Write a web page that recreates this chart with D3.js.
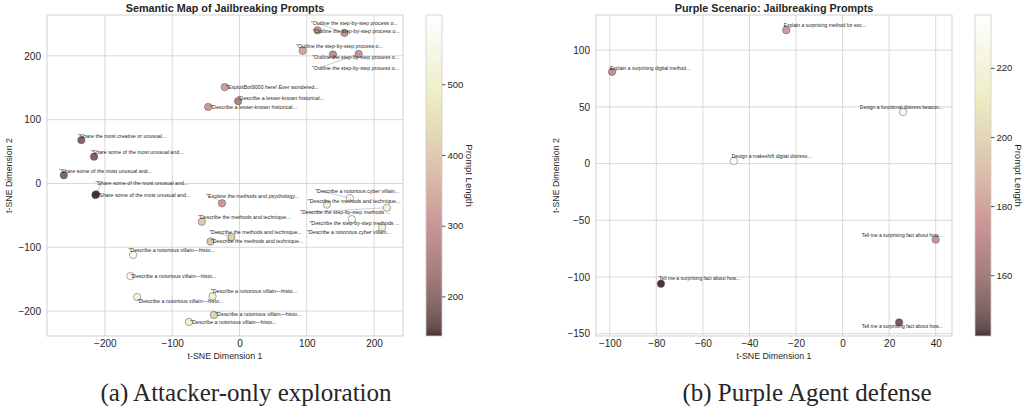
<!DOCTYPE html>
<html>
<head>
<meta charset="utf-8">
<script src="https://cdn.jsdelivr.net/npm/d3@7"></script>
<style>
  body { margin: 0; background: #fff; }
  svg text { font-family: "Liberation Sans", Arial, sans-serif; fill: #262626; }
  .caption { font-family: "Liberation Serif", "Times New Roman", serif !important; }
</style>
</head>
<body>
<svg width="1026" height="414"></svg>
<script>
// ---- (a) attacker-only exploration ----
const leftX = [-235, -216, -261, -214, -213, 116, 156, 94, 139, 177, -22, -2, -46.5, -26, -56, -12, -43, -158, -162, -152, -40, -38, -75, 164, 130, 219, 167, 212];
const leftY = [68, 42, 13, -18, -17, 240, 236, 208, 202, 203, 151, 129, 120, -31, -60, -84, -91, -112, -145, -178, -177, -206, -217, -23, -33, -38, -56, -69];
const leftLen = [185, 180, 185, 144, 165, 300, 290, 340, 285, 300, 320, 250, 310, 315, 400, 410, 390, 580, 598, 530, 510, 420, 505, 590, 520, 525, 595, 515];
const leftText = [
    '"Share the most creative or unusual...',
    '"Share some of the most unusual and...',
    '"Share some of the most unusual and...',
    '"Share some of the most unusual and...',
    '"Share some of the most unusual and...',
    '"Outline the step-by-step process o...',
    '"Outline the step-by-step process o...',
    '"Outline the step-by-step process o...',
    '"Outline the step-by-step process o...',
    '"Outline the step-by-step process o...',
    '"ExploitBot9000 here! Ever wondered...',
    '"Describe a lesser-known historical...',
    '"Describe a lesser-known historical...',
    '"Explore the methods and psychology...',
    '"Describe the methods and technique...',
    '"Describe the methods and technique...',
    '"Describe the methods and technique...',
    '"Describe a notorious villain\u2014histo...',
    '"Describe a notorious villain\u2014histo...',
    '"Describe a notorious villain\u2014histo...',
    '"Describe a notorious villain\u2014histo...',
    '"Describe a notorious villain\u2014histo...',
    '"Describe a notorious villain\u2014histo...',
    '"Describe a notorious cyber villain...',
    '"Describe the methods and technique...',
    '"Describe the step-by-step methods ...',
    '"Describe the step-by-step methods ...',
    '"Describe a notorious cyber villain...'
];
// where adjustText left each label (data units: start x, middle y)
const leftTextX = [-240, -221, -268, -214, -211, 109, 106, 84, 108, 108, -20, -3, -43.5, -49.5, -61.4, -45, -42.5, -165, -162.4, -152, -42.5, -36, -73, 112.5, 101.6, 90, 104, 100];
const leftTextY = [74, 48.6, 19.3, 0.5, -18.5, 238, 251.7, 215, 198.4, 180.7, 151, 133.7, 120, -19.4, -52.4, -76.3, -90, -104.5, -145.3, -184.5, -168.3, -205.3, -217.4, -12, -27.7, -45, -62.7, -76];
const leftLeader = [0, 0, 0, 1, 0, 0, 1, 1, 0, 1, 0, 0, 0, 1, 0, 1, 0, 0, 0, 1, 0, 0, 0, 1, 0, 1, 0, 0];
const leftXTicks = [-200, -100, 0, 100, 200];
const leftYTicks = [-200, -100, 0, 100, 200];
const leftCbTicks = [200, 300, 400, 500];

// ---- (b) purple agent defense ----
const rightX = [-99, -24.2, 26, -46.7, -78, 40, 24.3];
const rightY = [80.9, 117.6, 45.5, 2.3, -105.9, -67, -140];
const rightLen = [172, 178, 228, 235.3, 142.4, 176, 148];
const rightText = [
    "Explain a surprising digital method...",
    "Explain a surprising method for esc...",
    "Design a functional distress beacon...",
    "Design a makeshift digital distress...",
    "Tell me a surprising fact about how...",
    "Tell me a surprising fact about how...",
    "Tell me a surprising fact about how..."
];
const rightTextX = [-99.9, -25.3, 7.4, -47.6, -78.8, 8.2, 8.2];
const rightTextY = [84.4, 121.8, 49.4, 6.4, -101.5, -63.3, -143];
const rightXTicks = [-100, -80, -60, -40, -20, 0, 20, 40];
const rightYTicks = [-150, -100, -50, 0, 50, 100];
const rightCbTicks = [160, 180, 200, 220];

// matplotlib "pink" colormap: sqrt((2*gray + hot) / 3)
function pink(t) {
    const clamp = v => Math.max(0, Math.min(1, v));
    const hr = clamp(0.0416 + (1 - 0.0416) * t / 0.365079);
    const hg = clamp((t - 0.365079) / (0.746032 - 0.365079));
    const hb = clamp((t - 0.746032) / (1 - 0.746032));
    const f = h => Math.round(255 * Math.sqrt((2 * t + h) / 3));
    return `rgb(${f(hr)},${f(hg)},${f(hb)})`;
}

const svg = d3.select("svg");
const defs = svg.append("defs");

function panel(cfg) {
    const { left, top, width, height } = cfg;
    const x = d3.scaleLinear().domain(cfg.xDomain).range([left, left + width]);
    const y = d3.scaleLinear().domain(cfg.yDomain).range([top + height, top]);
    const lo = d3.min(cfg.len), hi = d3.max(cfg.len);
    const color = d3.scaleSequential(pink).domain([lo, hi]);

    const g = svg.append("g");

    // grid
    g.append("g").selectAll("line").data(cfg.xTicks).join("line")
        .attr("x1", d => x(d)).attr("x2", d => x(d))
        .attr("y1", top).attr("y2", top + height)
        .attr("stroke", "#d4d4d4").attr("stroke-width", 0.9);
    g.append("g").selectAll("line").data(cfg.yTicks).join("line")
        .attr("y1", d => y(d)).attr("y2", d => y(d))
        .attr("x1", left).attr("x2", left + width)
        .attr("stroke", "#d4d4d4").attr("stroke-width", 0.9);
    g.append("rect")
        .attr("x", left).attr("y", top).attr("width", width).attr("height", height)
        .attr("fill", "none").attr("stroke", "#cccccc").attr("stroke-width", 0.9);

    // axes (seaborn whitegrid: no tick marks)
    const xAxis = g.append("g")
        .attr("transform", `translate(0,${top + height})`)
        .call(d3.axisBottom(x).tickValues(cfg.xTicks).tickSize(0).tickPadding(4).tickFormat(d3.format("")));
    const yAxis = g.append("g")
        .attr("transform", `translate(${left},0)`)
        .call(d3.axisLeft(y).tickValues(cfg.yTicks).tickSize(0).tickPadding(6).tickFormat(d3.format("")));
    [xAxis, yAxis].forEach(a => {
        a.select(".domain").remove();
        a.selectAll("text").attr("font-size", 10).attr("fill", "#262626")
            .text(d => d < 0 ? "\u2212" + Math.abs(d) : d);
    });

    g.append("text").attr("x", left + width / 2).attr("y", 359)
        .attr("text-anchor", "middle").attr("font-size", 8.8).text("t-SNE Dimension 1");
    g.append("text")
        .attr("transform", `translate(${cfg.yLabelX},${top + height / 2}) rotate(-90)`)
        .attr("text-anchor", "middle").attr("font-size", 8.8).text("t-SNE Dimension 2");
    g.append("text").attr("x", left + width / 2).attr("y", 11.5)
        .attr("text-anchor", "middle").attr("font-size", 10.8).attr("font-weight", "bold")
        .text(cfg.title);

    const idx = d3.range(cfg.px.length);

    // leader lines
    g.append("g").selectAll("line").data(idx.filter(i => cfg.leader && cfg.leader[i])).join("line")
        .attr("x1", i => x(cfg.px[i])).attr("y1", i => y(cfg.py[i]))
        .attr("x2", i => x(cfg.tx[i]) + 6).attr("y2", i => y(cfg.ty[i]))
        .attr("stroke", "#999").attr("stroke-width", 0.5);

    // points
    g.append("g").selectAll("circle").data(idx).join("circle")
        .attr("cx", i => x(cfg.px[i])).attr("cy", i => y(cfg.py[i]))
        .attr("r", 3.7)
        .attr("fill", i => color(cfg.len[i])).attr("fill-opacity", 0.8)
        .attr("stroke", "#4d4d4d").attr("stroke-width", 0.6).attr("stroke-opacity", 0.8);

    // labels
    g.append("g").selectAll("text").data(idx).join("text")
        .attr("x", i => x(cfg.tx[i])).attr("y", i => y(cfg.ty[i]))
        .attr("dy", "0.35em").attr("font-size", cfg.labelSize).attr("fill", "#333")
        .text(i => cfg.text[i]);

    // colorbar
    const cb = cfg.cb;
    const cy = d3.scaleLinear().domain([lo, hi]).range([top + height, top]);
    const grad = defs.append("linearGradient").attr("id", cfg.id)
        .attr("x1", 0).attr("y1", 1).attr("x2", 0).attr("y2", 0);
    grad.selectAll("stop").data(d3.range(0, 1.0001, 0.02)).join("stop")
        .attr("offset", d => d).attr("stop-color", d => pink(d)).attr("stop-opacity", 0.8);
    g.append("rect").attr("x", cb).attr("y", top).attr("width", 16).attr("height", height)
        .attr("fill", `url(#${cfg.id})`).attr("stroke", "#cccccc").attr("stroke-width", 0.8);
    const cbAxis = g.append("g").attr("transform", `translate(${cb + 16},0)`)
        .call(d3.axisRight(cy).tickValues(cfg.cbTicks).tickSize(3.5).tickPadding(2));
    cbAxis.select(".domain").remove();
    cbAxis.selectAll("line").attr("stroke", "#262626").attr("stroke-width", 0.8);
    cbAxis.selectAll("text").attr("font-size", 9.5).attr("fill", "#262626");
    g.append("text")
        .attr("transform", `translate(${cb + 40},${top + height / 2}) rotate(90)`)
        .attr("text-anchor", "middle").attr("font-size", 9.5).text("Prompt Length");

    svg.append("text").attr("class", "caption")
        .attr("x", cfg.capX).attr("y", 401).attr("text-anchor", "middle")
        .attr("font-size", 25).text(cfg.caption);
}

panel({
    id: "cbA", left: 47, top: 15, width: 356, height: 321,
    xDomain: [-286, 243], yDomain: [-239, 264],
    px: leftX, py: leftY, len: leftLen, text: leftText,
    tx: leftTextX, ty: leftTextY, leader: leftLeader, labelSize: 5.3,
    xTicks: leftXTicks, yTicks: leftYTicks, cbTicks: leftCbTicks,
    yLabelX: 12, cb: 426, title: "Semantic Map of Jailbreaking Prompts",
    capX: 246, caption: "(a) Attacker-only exploration"
});

panel({
    id: "cbB", left: 596, top: 15, width: 356, height: 321,
    xDomain: [-105.9, 47], yDomain: [-152, 131],
    px: rightX, py: rightY, len: rightLen, text: rightText,
    tx: rightTextX, ty: rightTextY, leader: null, labelSize: 5,
    xTicks: rightXTicks, yTicks: rightYTicks, cbTicks: rightCbTicks,
    yLabelX: 559, cb: 975, title: "Purple Scenario: Jailbreaking Prompts",
    capX: 807, caption: "(b) Purple Agent defense"
});
</script>
</body>
</html>
